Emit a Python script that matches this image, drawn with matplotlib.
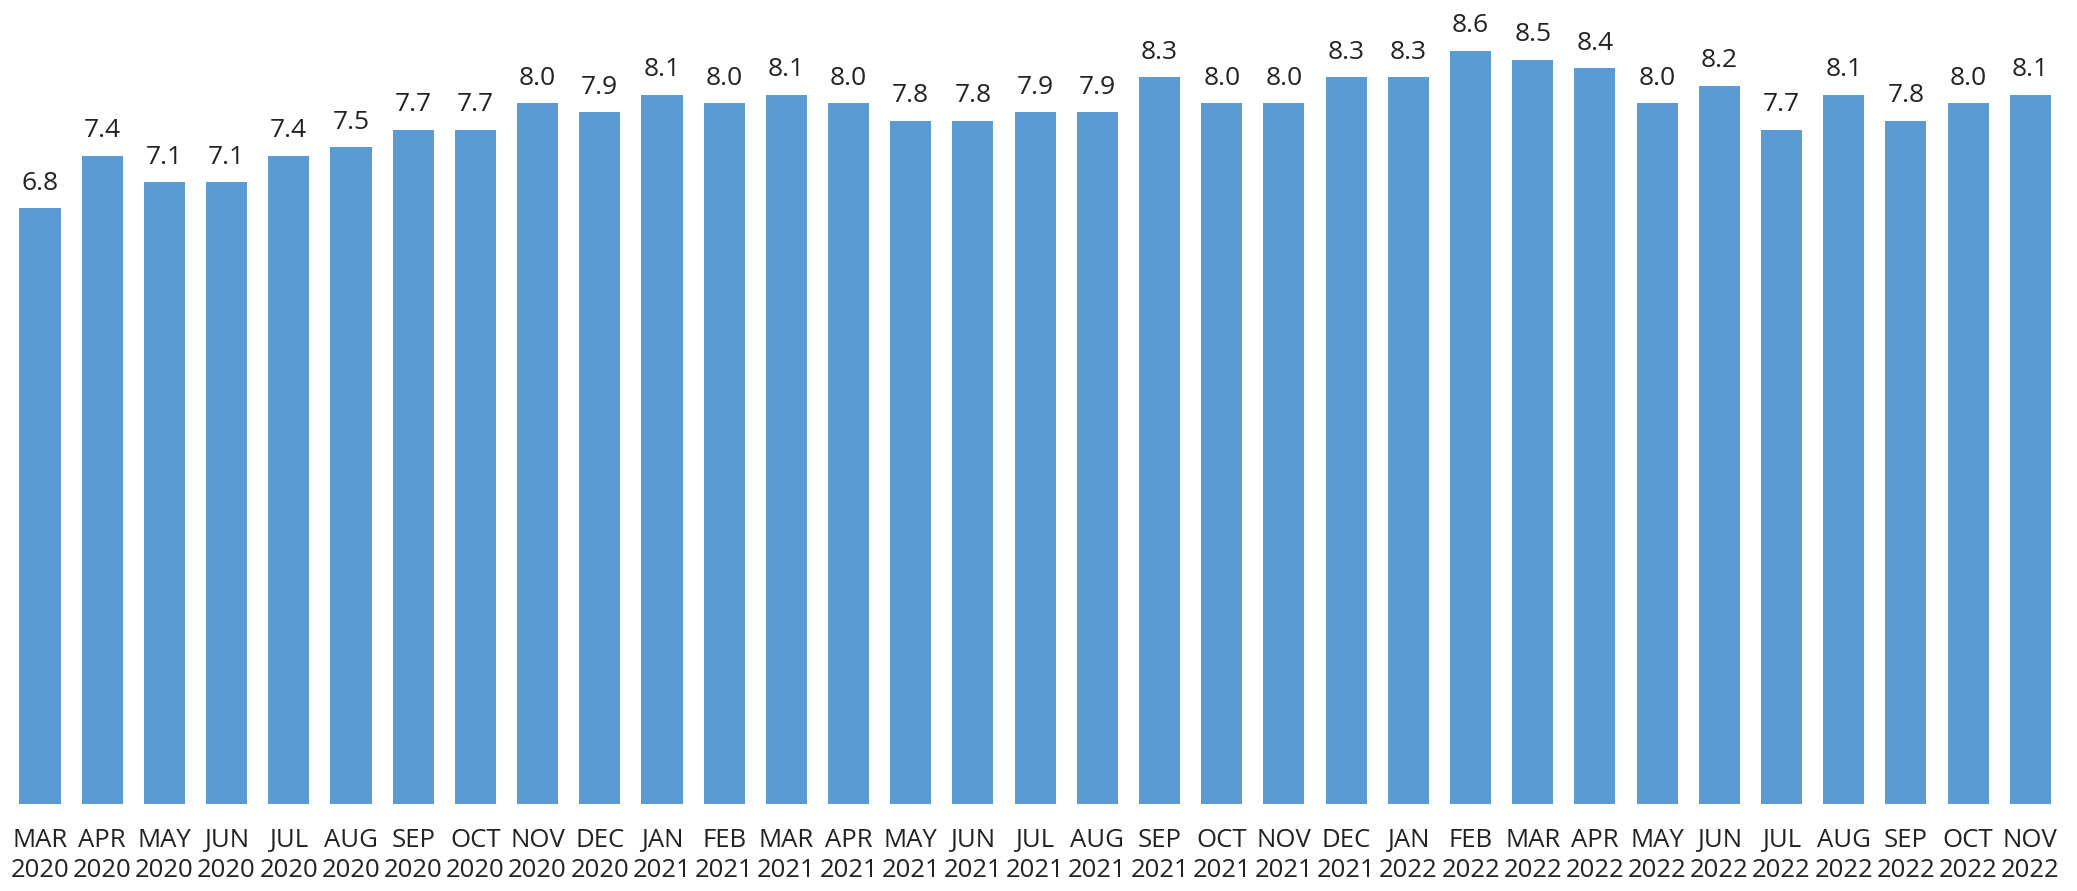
import matplotlib
matplotlib.use("Agg")
import matplotlib.pyplot as plt
import numpy as np

# months and values
months = ["MAR", "APR", "MAY", "JUN", "JUL", "AUG", "SEP", "OCT", "NOV", "DEC",
          "JAN", "FEB", "MAR", "APR", "MAY", "JUN", "JUL", "AUG", "SEP", "OCT", "NOV", "DEC",
          "JAN", "FEB", "MAR", "APR", "MAY", "JUN", "JUL", "AUG", "SEP", "OCT", "NOV"]
years = ["2020"] * 10 + ["2021"] * 12 + ["2022"] * 11
values = [6.8, 7.4, 7.1, 7.1, 7.4, 7.5, 7.7, 7.7, 8.0, 7.9,
          8.1, 8.0, 8.1, 8.0, 7.8, 7.8, 7.9, 7.9, 8.3, 8.0, 8.0, 8.3,
          8.3, 8.6, 8.5, 8.4, 8.0, 8.2, 7.7, 8.1, 7.8, 8.0, 8.1]

labels = [f"{m}\n{y}" for m, y in zip(months, years)]
x = np.arange(len(values))

plt.rcParams['font.family'] = ['Open Sans', 'DejaVu Sans']

fig = plt.figure(figsize=(20.77, 8.91), dpi=100)
ax = fig.add_axes([0, 0.0976, 1, 0.9024])

ax.bar(x, values, width=0.66, color="#5B9BD5")
for xi, v in zip(x, values):
    ax.annotate(f"{v:.1f}", (xi, v), xytext=(0, 9), textcoords="offset points",
                ha="center", va="bottom", fontsize=19, color="#222222")

ax.set_xlim(-0.643, 32.75)
ax.set_ylim(0, 9.18)
ax.set_xticks(x)
ax.set_xticklabels(labels, fontsize=18.5, color="#222222", linespacing=1.3)
ax.tick_params(axis="x", length=0, pad=17)
ax.set_yticks([])
for s in ax.spines.values():
    s.set_visible(False)

fig.savefig("out.png", dpi=100)
